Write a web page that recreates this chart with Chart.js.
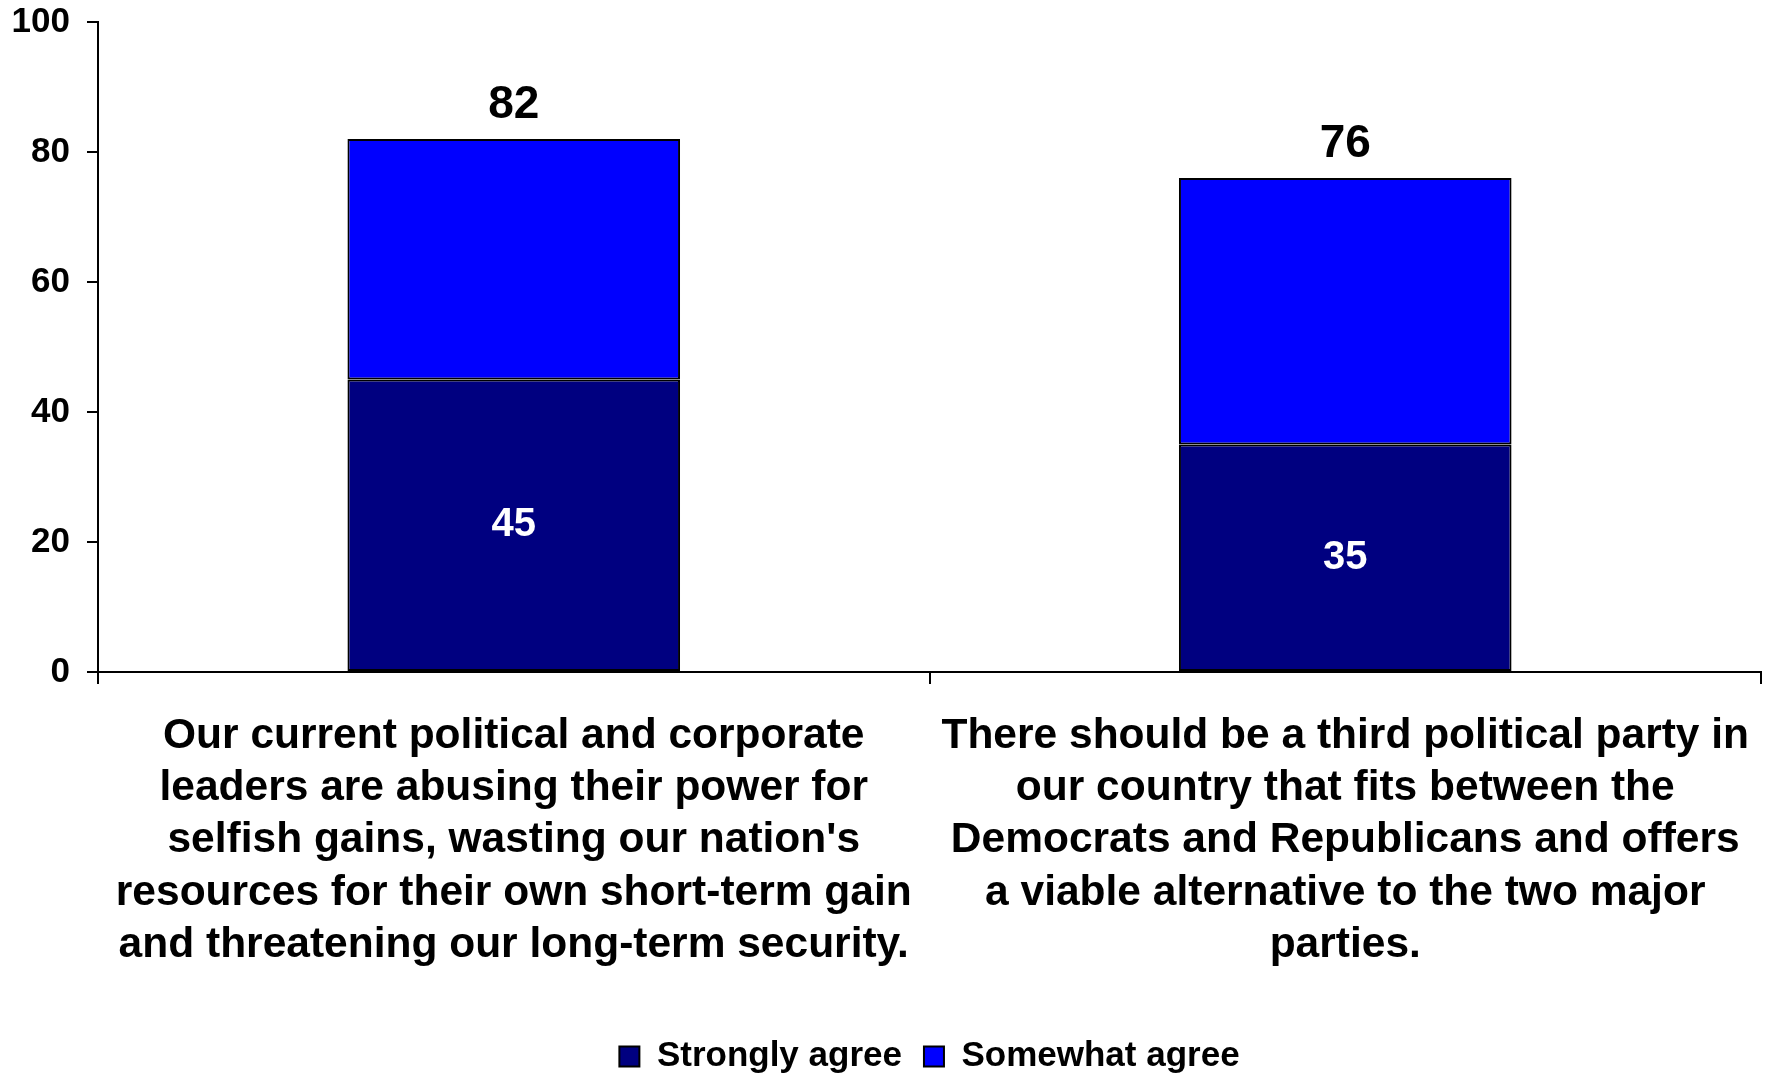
<!DOCTYPE html>
<html>
<head>
<meta charset="utf-8">
<script src="https://cdn.jsdelivr.net/npm/chart.js@4/dist/chart.umd.min.js"></script>
<style>
    html, body { margin: 0; padding: 0; background: #fff; }
    #wrap { width: 1767px; height: 1074px; position: relative; }
</style>
</head>
<body>
<div id="wrap"><canvas id="agreeChart"></canvas></div>
<script>
const categories = [
    ["Our current political and corporate", "leaders are abusing their power for", "selfish gains, wasting our nation's", "resources for their own short-term gain", "and threatening our long-term security."],
    ["There should be a third political party in", "our country that fits between the", "Democrats and Republicans and offers", "a viable alternative to the two major", "parties."]
];
const seriesNames = ["Strongly agree", "Somewhat agree"];
const stronglyAgree = [45, 35];
const somewhatAgree = [37, 41];
const yTicks = [0, 20, 40, 60, 80, 100];

const FONT = '"Liberation Sans", Arial, sans-serif';

// totals above bars, strongly-agree value inside the bottom segment
const valueLabels = {
    id: 'valueLabels',
    afterDatasetsDraw(chart) {
        const ctx = chart.ctx;
        const bottom = chart.getDatasetMeta(0);
        const upper = chart.getDatasetMeta(1);
        ctx.save();
        ctx.textAlign = 'center';
        ctx.textBaseline = 'middle';
        bottom.data.forEach((bar, i) => {
            ctx.fillStyle = '#ffffff';
            ctx.font = 'bold 40px ' + FONT;
            ctx.fillText(String(stronglyAgree[i]), bar.x, (bar.y + bar.base) / 2);

            const top = upper.data[i];
            ctx.fillStyle = '#000000';
            ctx.font = 'bold 46px ' + FONT;
            ctx.fillText(String(stronglyAgree[i] + somewhatAgree[i]), top.x, top.y - 34);
        });
        ctx.restore();
    }
};

// legend in the original is centred under the plot area, not the whole canvas
const legendShift = {
    id: 'legendShift',
    afterLayout(chart) {
        const lg = chart.legend;
        if (!lg) return;
        const dx = (chart.chartArea.left + chart.chartArea.right) / 2 - (lg.left + lg.right) / 2;
        lg.left += dx;
        lg.right += dx;
    }
};

new Chart(document.getElementById('agreeChart'), {
    type: 'bar',
    data: {
        labels: categories,
        datasets: [{
            label: seriesNames[0],
            data: stronglyAgree,
            backgroundColor: '#000080',
            borderColor: '#000000',
            borderWidth: 2,
            borderSkipped: false
        }, {
            label: seriesNames[1],
            data: somewhatAgree,
            backgroundColor: '#0000ff',
            borderColor: '#000000',
            borderWidth: 2,
            borderSkipped: false
        }]
    },
    options: {
        responsive: true,
        maintainAspectRatio: false,
        animation: false,
        layout: { padding: { left: 0, right: 6, top: 22, bottom: -10 } },
        datasets: { bar: { categoryPercentage: 1, barPercentage: 0.4 } },
        plugins: {
            legend: {
                position: 'bottom',
                labels: {
                    color: '#000',
                    font: { family: FONT, size: 35, weight: 'bold' },
                    boxWidth: 20,
                    boxHeight: 20,
                    padding: 22
                }
            },
            tooltip: { enabled: false }
        },
        scales: {
            x: {
                stacked: true,
                afterFit: (scale) => {
                    scale.height = 345;
                    scale.paddingLeft = 0;
                    scale.paddingRight = 0;
                },
                border: { display: true, color: '#000', width: 2 },
                grid: { display: true, drawOnChartArea: false, offset: true, tickLength: 12, color: '#000', lineWidth: 2 },
                ticks: {
                    color: '#000',
                    font: { family: FONT, size: 42.5, weight: 'bold', lineHeight: 1.23 },
                    padding: 26,
                    maxRotation: 0,
                    autoSkip: false
                }
            },
            y: {
                stacked: true,
                min: 0,
                max: 100,
                afterFit: (scale) => {
                    scale.width = 98;
                    scale.paddingTop = 0;
                    scale.paddingBottom = 0;
                },
                afterBuildTicks: (scale) => { scale.ticks = yTicks.map(v => ({ value: v })); },
                border: { display: true, color: '#000', width: 2 },
                grid: { display: true, drawOnChartArea: false, tickLength: 11, color: '#000', lineWidth: 2 },
                ticks: {
                    color: '#000',
                    font: { family: FONT, size: 35, weight: 'bold' },
                    padding: 17
                }
            }
        }
    },
    plugins: [valueLabels, legendShift]
});
</script>
</body>
</html>
